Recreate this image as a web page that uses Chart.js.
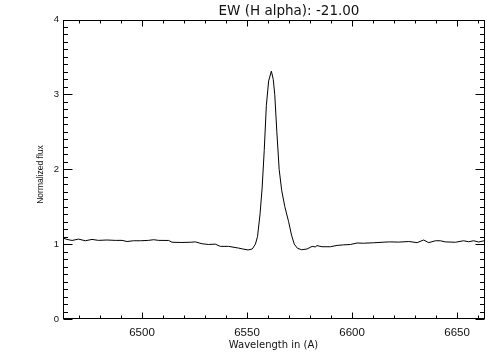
<!DOCTYPE html>
<html>
<head>
<meta charset="utf-8">
<script src="https://cdn.jsdelivr.net/npm/chart.js@4"></script>
<style>
html,body{margin:0;padding:0;background:#fff;}
canvas{display:block;}
</style>
</head>
<body>
<canvas id="c" width="504" height="360"></canvas>
<script>
const chartTitle = "EW (H alpha): -21.00";
const xAxisTitle = "Wavelength in (A)";
const yAxisTitle = "Normalized flux";

const wavelength = [
  6462.5, 6464.3, 6466.7, 6469.8, 6473.0, 6476.2, 6479.3, 6483.3, 6487.3, 6490.5,
  6492.9, 6496.0, 6499.2, 6503.1, 6505.5, 6508.0, 6512.7, 6514.3, 6519.0, 6523.0,
  6525.4, 6528.6, 6531.7, 6534.9, 6537.3, 6541.2, 6546.0, 6548.0, 6550.5, 6552.5,
  6554.0, 6555.0, 6556.2, 6557.2, 6558.2, 6559.2, 6560.3, 6561.6, 6562.5, 6563.2,
  6564.2, 6565.3, 6566.5, 6568.0, 6569.8, 6571.2, 6572.5, 6574.0, 6576.0, 6578.6,
  6581.0, 6582.5, 6583.3, 6585.7, 6589.7, 6592.9, 6596.0, 6599.2, 6602.4, 6605.5,
  6610.3, 6614.3, 6617.9, 6622.2, 6627.0, 6631.0, 6634.1, 6636.5, 6639.7, 6642.0,
  6644.4, 6649.2, 6653.1, 6655.5, 6657.9, 6660.3, 6663.3
];
const flux = [
  1.080, 1.063, 1.049, 1.067, 1.045, 1.063, 1.050, 1.055, 1.050, 1.050,
  1.035, 1.045, 1.045, 1.050, 1.059, 1.050, 1.049, 1.025, 1.022, 1.025,
  1.030, 1.005, 0.995, 1.000, 0.970, 0.970, 0.947, 0.935, 0.922, 0.935,
  1.000, 1.100, 1.400, 1.750, 2.250, 2.850, 3.180, 3.310, 3.200, 3.000,
  2.500, 2.000, 1.720, 1.500, 1.300, 1.120, 1.000, 0.945, 0.925, 0.935,
  0.970, 0.963, 0.980, 0.965, 0.965, 0.983, 0.990, 0.995, 1.015, 1.012,
  1.018, 1.025, 1.030, 1.027, 1.035, 1.020, 1.055, 1.020, 1.045, 1.045,
  1.030, 1.025, 1.045, 1.032, 1.045, 1.028, 1.048
];

const xTickValues = [6500, 6550, 6600, 6650];
const yTickValues = [0, 1, 2, 3, 4];
const xMinorStep = 10;
const yMinorStep = 0.1;

const points = wavelength.map((w, i) => ({x: w, y: flux[i]}));

const frame = {
  id: 'frame',
  afterDraw(chart) {
    const {ctx, chartArea: a, scales: {x, y}} = chart;
    ctx.save();
    ctx.strokeStyle = '#000';
    ctx.lineWidth = 1;
    const L = Math.round(a.left) + 0.5, R = Math.round(a.right) - 0.5;
    const T = Math.round(a.top) + 0.5, B = Math.round(a.bottom) - 0.5;
    ctx.strokeRect(L, T, R - L, B - T);
    ctx.beginPath();
    for (let v = Math.ceil(x.min / xMinorStep) * xMinorStep; v <= x.max; v += xMinorStep) {
      const px = Math.round(x.getPixelForValue(v)) + 0.5;
      const major = xTickValues.includes(Math.round(v));
      const len = major ? 6 : 3;
      ctx.moveTo(px, B); ctx.lineTo(px, B - len);
      ctx.moveTo(px, T); ctx.lineTo(px, T + len);
    }
    for (let k = 0; k <= Math.round((y.max - y.min) / yMinorStep); k++) {
      const v = y.min + k * yMinorStep;
      const py = Math.round(y.getPixelForValue(v)) + 0.5;
      const major = k % 10 === 0;
      const len = major ? 9 : 4.5;
      ctx.moveTo(L, py); ctx.lineTo(L + len, py);
      ctx.moveTo(R, py); ctx.lineTo(R - len, py);
    }
    ctx.stroke();
    ctx.fillStyle = '#111';
    ctx.textAlign = 'center';
    ctx.textBaseline = 'middle';
    ctx.font = '13.5px "DejaVu Sans"';
    ctx.fillText(chartTitle, 289, 11);
    ctx.font = '10px "DejaVu Sans"';
    ctx.fillText(xAxisTitle, 273.5, 345);
    ctx.save();
    ctx.translate(41, 174.5);
    ctx.rotate(-Math.PI / 2);
    ctx.font = '8.5px "Liberation Sans"';
    ctx.fillText(yAxisTitle, 0, 0);
    ctx.restore();
    ctx.restore();
  }
};

new Chart(document.getElementById('c'), {
  type: 'line',
  data: {
    datasets: [{
      data: points,
      borderColor: '#000',
      borderWidth: 1,
      pointRadius: 0,
      tension: 0,
      fill: false
    }]
  },
  options: {
    responsive: false,
    animation: false,
    devicePixelRatio: 1,
    layout: {padding: {left: 0, right: 19, top: 19.5, bottom: 0}},
    plugins: {legend: {display: false}, tooltip: {enabled: false}, title: {display: false}},
    scales: {
      x: {
        type: 'linear', min: 6462.4, max: 6663.3,
        grid: {display: false, drawTicks: false},
        border: {display: false},
        afterBuildTicks: s => { s.ticks = xTickValues.map(v => ({value: v})); },
        afterFit: s => { s.height = 41; },
        ticks: {color: '#111', font: {family: '"Liberation Sans"', size: 11.5}, padding: 6.6,
                maxRotation: 0, autoSkip: false, callback: v => String(v)}
      },
      y: {
        type: 'linear', min: 0, max: 4,
        grid: {display: false, drawTicks: false},
        border: {display: false},
        afterBuildTicks: s => { s.ticks = yTickValues.map(v => ({value: v})); },
        afterFit: s => { s.width = 63; },
        ticks: {color: '#111', font: {family: '"Liberation Sans"', size: 9.5}, padding: 4,
                autoSkip: false, callback: v => String(v)}
      }
    }
  },
  plugins: [frame]
});
</script>
</body>
</html>
